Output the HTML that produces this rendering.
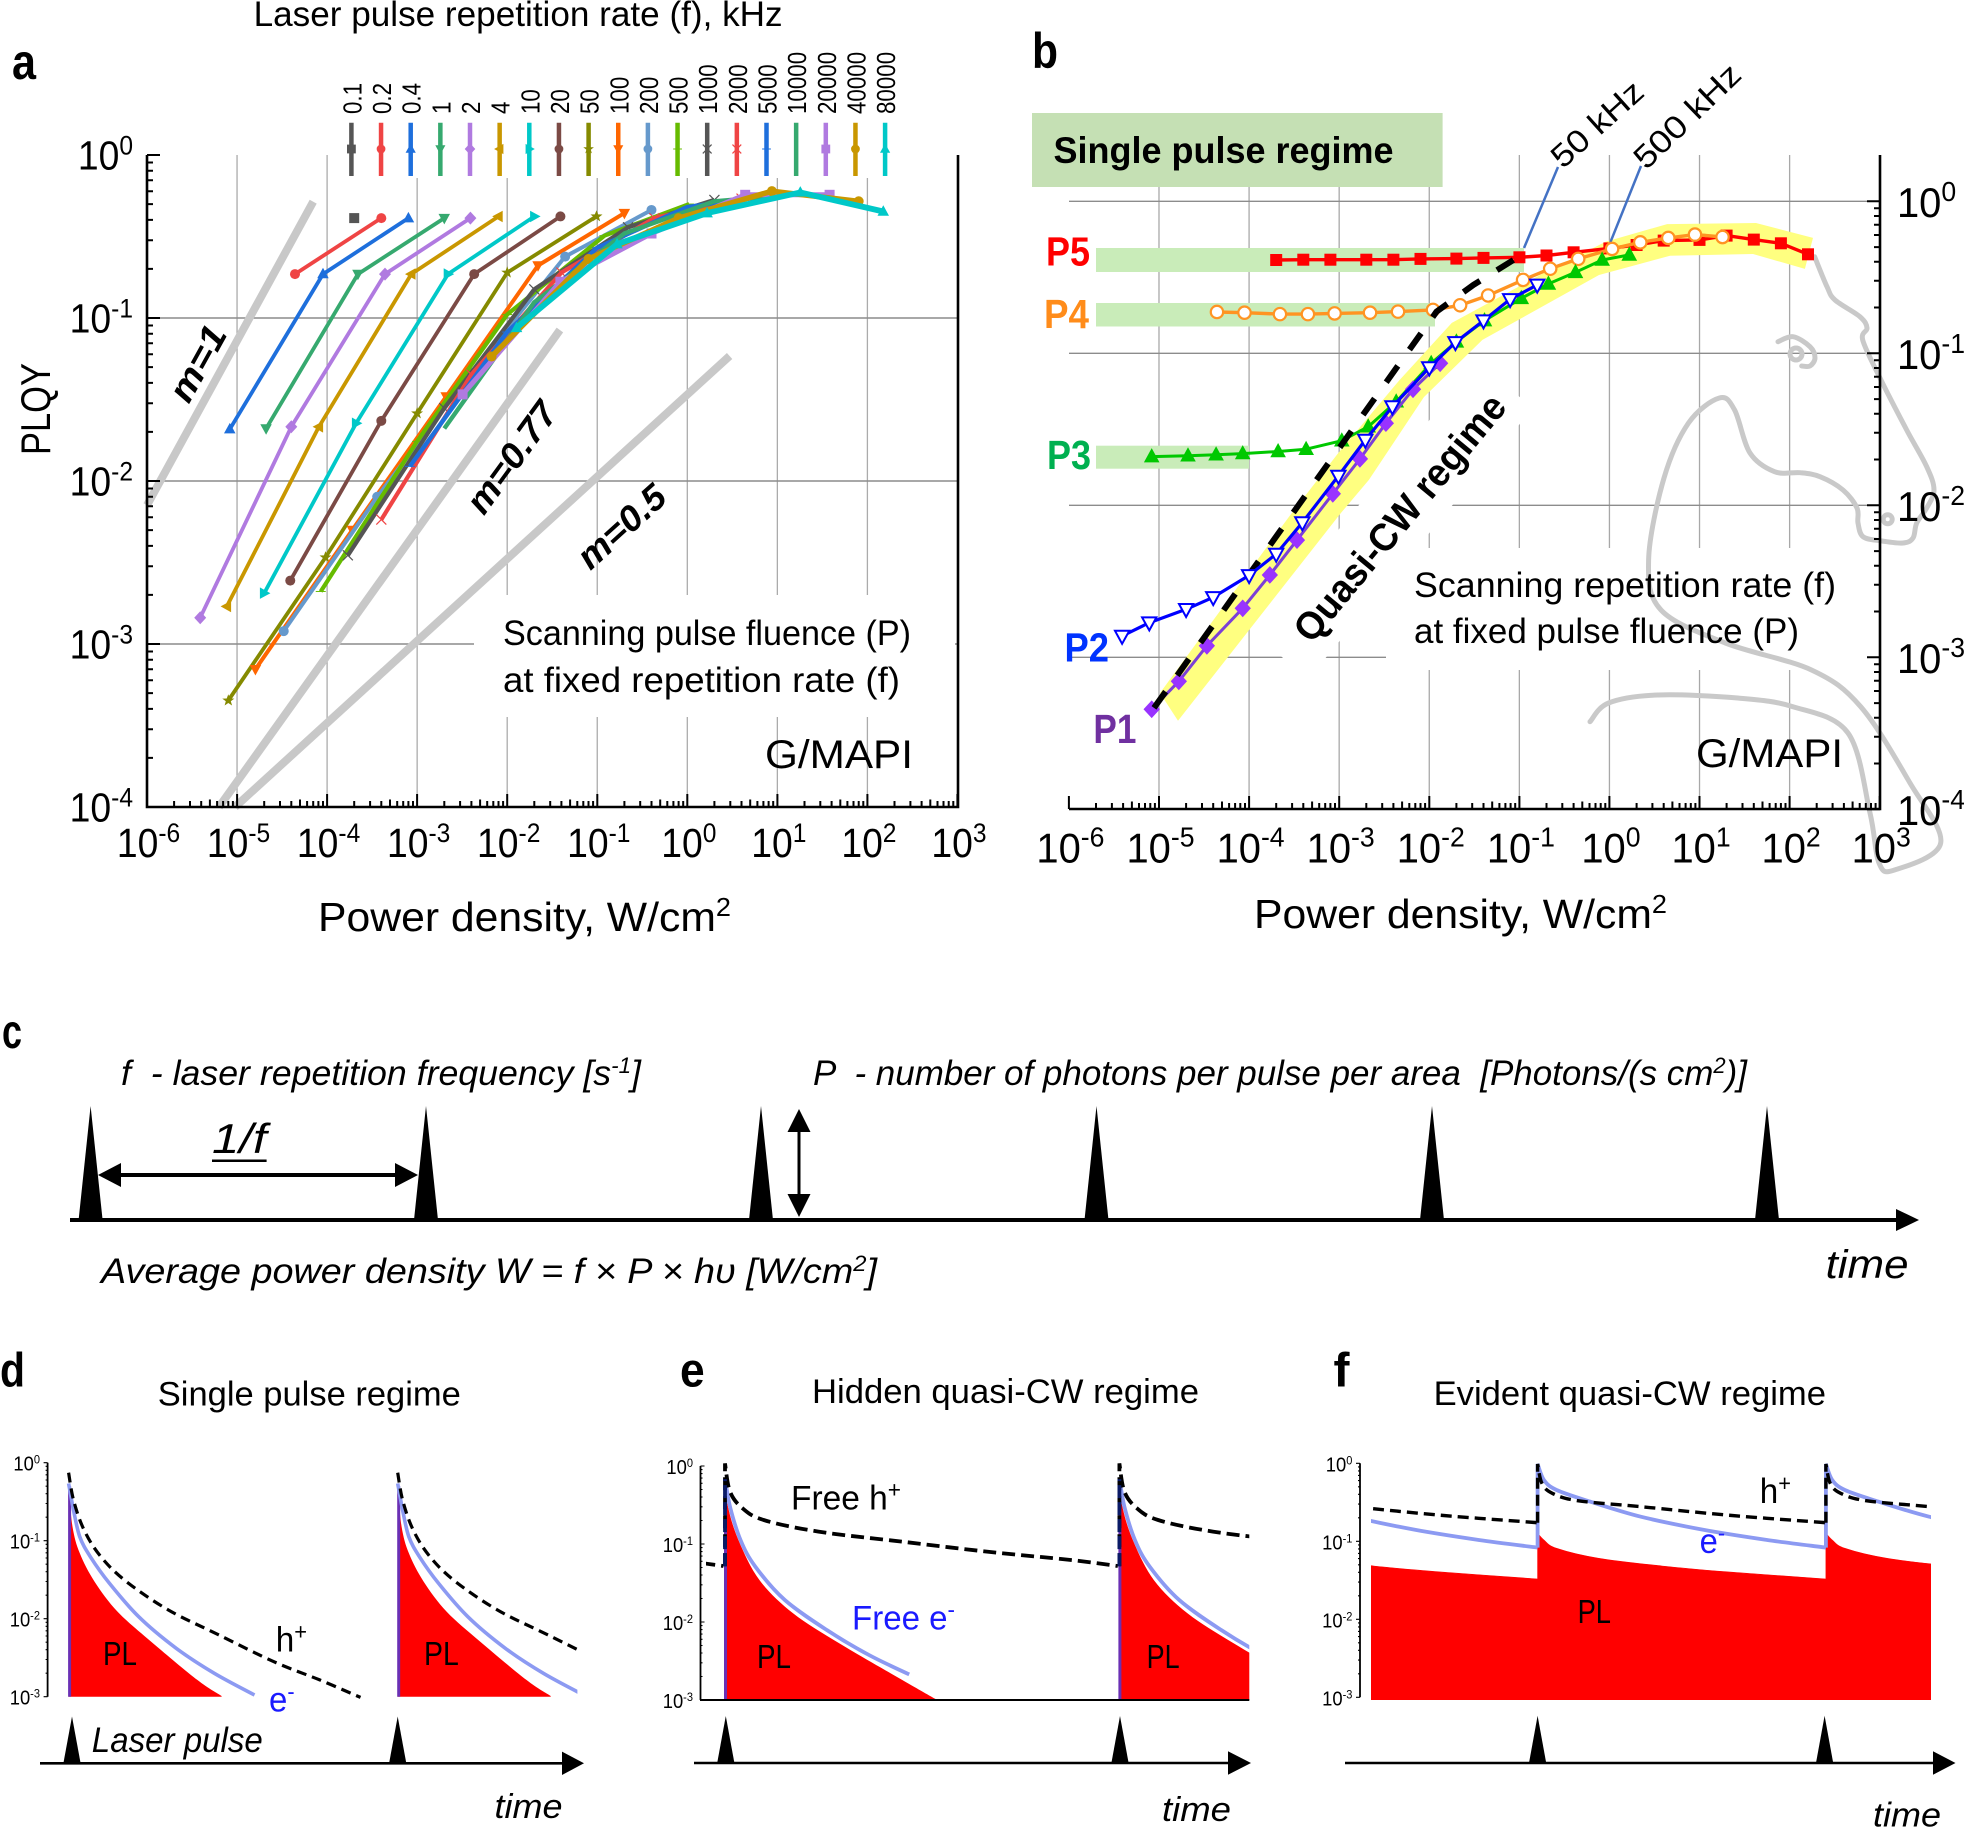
<!DOCTYPE html>
<html lang="en">
<head>
<meta charset="utf-8">
<title>PLQY versus power density, panels a to f</title>
<style>
html,body{margin:0;padding:0;background:#fff}
svg{display:block;font-family:"Liberation Sans",sans-serif}
.t{fill:#000}
</style>
</head>
<body>
<svg id="root" xmlns="http://www.w3.org/2000/svg" width="1964" height="1828" viewBox="0 0 1964 1828">
<defs>
<clipPath id="clip-d"><rect x="40" y="1440" width="537.4" height="270"/></clipPath>
<clipPath id="clip-e"><rect x="706" y="1440" width="543.3" height="260"/></clipPath>
<clipPath id="clip-f"><rect x="1371" y="1440" width="560" height="260"/></clipPath>
</defs>
<rect x="0" y="0" width="1964" height="1828" fill="#fff"/>

<g id="a-grid"></g>
<rect x="338" y="100" width="615" height="78" fill="#fff"/>
<rect x="474" y="595" width="481" height="122" fill="#fff"/>
<g id="a-refs"></g>
<g id="a-series"></g>
<g id="a-legend"></g>
<g id="a-axes"></g>

<g id="b-grid"></g>
<rect x="1386" y="548" width="494" height="122" fill="#fff"/>
<rect x="-187" y="-36" width="352" height="72" fill="#fff" transform="translate(1400 512) rotate(-50.3)"/>
<rect x="1032" y="113" width="410.6" height="74" fill="#c5e0b4"/>
<rect x="1096" y="248" width="428" height="24" fill="#c9ecb9"/>
<rect x="1096" y="303" width="339" height="23.5" fill="#c9ecb9"/>
<rect x="1096" y="445.7" width="153" height="23" fill="#c9ecb9"/>
<g id="b-band"></g>
<g id="b-horse" fill="none" stroke="#c9c9c9" stroke-width="5" stroke-linejoin="round" stroke-linecap="round"></g>
<line x1="1558" y1="167" x2="1524" y2="248" stroke="#4472c4" stroke-width="2.5"/>
<line x1="1641" y1="166" x2="1608.6" y2="246.7" stroke="#4472c4" stroke-width="2.5"/>
<g id="b-series"></g>
<g id="b-axes"></g>

<g id="c-timeline"></g>
<g id="d-plot"></g>
<g id="e-plot"></g>
<g id="f-plot"></g>

<!-- Panel a text -->
<text class="t" x="12" y="79" font-size="50" font-weight="bold" textLength="24" lengthAdjust="spacingAndGlyphs">a</text>
<text class="t" x="253.6" y="26" font-size="35" textLength="529" lengthAdjust="spacingAndGlyphs">Laser pulse repetition rate (f), kHz</text>
<text class="t" transform="translate(50 455) rotate(-90)" font-size="42" textLength="92" lengthAdjust="spacingAndGlyphs">PLQY</text>
<text class="t" x="318" y="931" font-size="41" textLength="413" lengthAdjust="spacingAndGlyphs">Power density, W/cm<tspan dy="-15" font-size="26">2</tspan></text>
<text class="t" x="503" y="645" font-size="35" textLength="408" lengthAdjust="spacingAndGlyphs">Scanning pulse fluence (P)</text>
<text class="t" x="503" y="692" font-size="35" textLength="397" lengthAdjust="spacingAndGlyphs">at fixed repetition rate (f)</text>
<text class="t" x="765" y="768" font-size="40" textLength="148" lengthAdjust="spacingAndGlyphs">G/MAPI</text>
<text class="t" transform="translate(197 363) rotate(-61)" y="13" text-anchor="middle" font-size="36" font-weight="bold" font-style="italic" textLength="81" lengthAdjust="spacingAndGlyphs">m=1</text>
<text class="t" transform="translate(511 457) rotate(-54)" y="13" text-anchor="middle" font-size="36" font-weight="bold" font-style="italic" textLength="128" lengthAdjust="spacingAndGlyphs">m=0.77</text>
<text class="t" transform="translate(621 526) rotate(-42)" y="13" text-anchor="middle" font-size="36" font-weight="bold" font-style="italic" textLength="106" lengthAdjust="spacingAndGlyphs">m=0.5</text>

<!-- Panel b text -->
<text class="t" x="1032" y="68" font-size="50" font-weight="bold" textLength="26" lengthAdjust="spacingAndGlyphs">b</text>
<text class="t" x="1053.5" y="163" font-size="37" font-weight="bold" textLength="340" lengthAdjust="spacingAndGlyphs">Single pulse regime</text>
<text x="1046" y="265.7" font-size="41" font-weight="bold" fill="#ff0000" textLength="44" lengthAdjust="spacingAndGlyphs">P5</text>
<text x="1044" y="328" font-size="41" font-weight="bold" fill="#ff8c1a" textLength="45" lengthAdjust="spacingAndGlyphs">P4</text>
<text x="1047" y="469" font-size="41" font-weight="bold" fill="#00b050" textLength="44" lengthAdjust="spacingAndGlyphs">P3</text>
<text x="1064.5" y="661.7" font-size="41" font-weight="bold" fill="#0033ff" textLength="44.5" lengthAdjust="spacingAndGlyphs">P2</text>
<text x="1093.4" y="743" font-size="41" font-weight="bold" fill="#7030a0" textLength="43" lengthAdjust="spacingAndGlyphs">P1</text>
<text class="t" transform="translate(1597 124) rotate(-42)" y="11" text-anchor="middle" font-size="32" textLength="112" lengthAdjust="spacingAndGlyphs">50 kHz</text>
<text class="t" transform="translate(1687 116) rotate(-44)" y="11" text-anchor="middle" font-size="32" textLength="135" lengthAdjust="spacingAndGlyphs">500 kHz</text>
<text class="t" transform="translate(1400 518) rotate(-50.3)" y="13" text-anchor="middle" font-size="39" font-weight="bold" textLength="308" lengthAdjust="spacingAndGlyphs">Quasi-CW regime</text>
<text class="t" x="1414" y="597" font-size="35" textLength="422" lengthAdjust="spacingAndGlyphs">Scanning repetition rate (f)</text>
<text class="t" x="1414" y="643" font-size="35" textLength="385" lengthAdjust="spacingAndGlyphs">at fixed pulse fluence (P)</text>
<text class="t" x="1696" y="767" font-size="40" textLength="147" lengthAdjust="spacingAndGlyphs">G/MAPI</text>
<text class="t" x="1254" y="928" font-size="41" textLength="413" lengthAdjust="spacingAndGlyphs">Power density, W/cm<tspan dy="-15" font-size="26">2</tspan></text>

<!-- Panel c text -->
<text class="t" x="2" y="1048" font-size="48" font-weight="bold" textLength="20" lengthAdjust="spacingAndGlyphs">c</text>
<text class="t" x="121" y="1085" font-size="35" font-style="italic" textLength="520" lengthAdjust="spacingAndGlyphs" xml:space="preserve">f  - laser repetition frequency [s<tspan dy="-12" font-size="22">-1</tspan><tspan dy="12">]</tspan></text>
<text class="t" x="813" y="1085" font-size="35" font-style="italic" textLength="934" lengthAdjust="spacingAndGlyphs" xml:space="preserve">P  - number of photons per pulse per area  [Photons/(s cm<tspan dy="-12" font-size="22">2</tspan><tspan dy="12">)]</tspan></text>
<text class="t" x="212" y="1153" font-size="42" font-style="italic" textLength="54.6" lengthAdjust="spacingAndGlyphs">1/f</text>
<rect x="212" y="1159.5" width="54.6" height="2.5" fill="#000"/>
<text class="t" x="101" y="1283" font-size="35" font-style="italic" textLength="776" lengthAdjust="spacingAndGlyphs">Average power density W = f × P × hυ [W/cm<tspan dy="-12" font-size="22">2</tspan><tspan dy="12">]</tspan></text>
<text class="t" x="1825.6" y="1278" font-size="40" font-style="italic" textLength="83" lengthAdjust="spacingAndGlyphs">time</text>

<!-- Panel d text -->
<text class="t" x="0" y="1386.7" font-size="48" font-weight="bold" textLength="25" lengthAdjust="spacingAndGlyphs">d</text>
<text class="t" x="157.8" y="1405.7" font-size="34" textLength="303" lengthAdjust="spacingAndGlyphs">Single pulse regime</text>
<text class="t" x="103" y="1665" font-size="33" textLength="34" lengthAdjust="spacingAndGlyphs">PL</text>
<text class="t" x="424" y="1665" font-size="33" textLength="34.8" lengthAdjust="spacingAndGlyphs">PL</text>
<text class="t" x="275.7" y="1651.7" font-size="35" textLength="31.3" lengthAdjust="spacingAndGlyphs">h<tspan dy="-12" font-size="23">+</tspan></text>
<text x="269" y="1711.7" font-size="35" fill="#1a1aff" textLength="25.6" lengthAdjust="spacingAndGlyphs">e<tspan dy="-12" font-size="23">-</tspan></text>
<text class="t" x="91.8" y="1752" font-size="35" font-style="italic" textLength="171" lengthAdjust="spacingAndGlyphs">Laser pulse</text>
<text class="t" x="494.5" y="1818" font-size="34" font-style="italic" textLength="68" lengthAdjust="spacingAndGlyphs">time</text>

<!-- Panel e text -->
<text class="t" x="680" y="1386.7" font-size="48" font-weight="bold" textLength="24.7" lengthAdjust="spacingAndGlyphs">e</text>
<text class="t" x="812" y="1403" font-size="34" textLength="387" lengthAdjust="spacingAndGlyphs">Hidden quasi-CW regime</text>
<text class="t" x="791" y="1509.3" font-size="34" textLength="110" lengthAdjust="spacingAndGlyphs">Free h<tspan dy="-12" font-size="23">+</tspan></text>
<text x="852" y="1629.3" font-size="34" fill="#1a1aff" textLength="103" lengthAdjust="spacingAndGlyphs">Free e<tspan dy="-12" font-size="23">-</tspan></text>
<text class="t" x="757" y="1668" font-size="33" textLength="34" lengthAdjust="spacingAndGlyphs">PL</text>
<text class="t" x="1146.6" y="1668" font-size="33" textLength="33" lengthAdjust="spacingAndGlyphs">PL</text>
<text class="t" x="1162" y="1821" font-size="34" font-style="italic" textLength="69" lengthAdjust="spacingAndGlyphs">time</text>

<!-- Panel f text -->
<text class="t" x="1333.5" y="1386.7" font-size="48" font-weight="bold" textLength="16" lengthAdjust="spacingAndGlyphs">f</text>
<text class="t" x="1433.6" y="1405" font-size="34" textLength="392.4" lengthAdjust="spacingAndGlyphs">Evident quasi-CW regime</text>
<text class="t" x="1577.6" y="1623" font-size="33" textLength="33.4" lengthAdjust="spacingAndGlyphs">PL</text>
<text class="t" x="1759.8" y="1503" font-size="35" textLength="31.2" lengthAdjust="spacingAndGlyphs">h<tspan dy="-12" font-size="23">+</tspan></text>
<text x="1699.6" y="1553" font-size="35" fill="#1a1aff" textLength="25.4" lengthAdjust="spacingAndGlyphs">e<tspan dy="-12" font-size="23">-</tspan></text>
<text class="t" x="1873" y="1826.7" font-size="34" font-style="italic" textLength="68" lengthAdjust="spacingAndGlyphs">time</text>
</svg>

<script>
/* ---------- Panel a values ---------- */
const repetitionRates = ['0.1','0.2','0.4','1','2','4','10','20','50','100','200','500','1000','2000','5000','10000','20000','40000','80000'];
const decadeExponents = [-6,-5,-4,-3,-2,-1,0,1,2,3];
const plqyExponents = [0,-1,-2,-3,-4];
const bExponents = [0,-1,-2,-3,-4];

const rate01X = [2e-4];                              const rate01Y = [0.41];
const rate02X = [4.4e-5,4e-4];                       const rate02Y = [0.186,0.41];
const rate04X = [8.3e-6,9e-5,8e-4];                  const rate04Y = [0.0208,0.186,0.41];
const rate1X = [2.1e-5,2.2e-4,2e-3];                 const rate1Y = [0.021,0.186,0.41];
const rate2X = [3.9e-6,4e-5,4.4e-4,3.9e-3];          const rate2Y = [0.00145,0.0215,0.186,0.41];
const rate4X = [7.7e-6,8.1e-5,8.6e-4,8e-3];          const rate4Y = [0.0017,0.0215,0.186,0.42];
const rate10X = [2e-5,2.1e-4,2.2e-3,2e-2];           const rate10Y = [0.00205,0.0226,0.186,0.42];
const rate20X = [3.9e-5,4e-4,4.3e-3,3.9e-2];         const rate20Y = [0.00245,0.0234,0.186,0.42];
const rate50X = [8e-6,9.6e-5,1e-3,1e-2,9.8e-2];      const rate50Y = [0.00045,0.0034,0.026,0.19,0.42];
const rate100X = [1.6e-5,1.9e-4,2.1e-3,2.2e-2,0.2];  const rate100Y = [0.0007,0.005,0.033,0.21,0.44];
const rate200X = [3.3e-5,3.6e-4,4e-3,4.4e-2,0.4];    const rate200Y = [0.0012,0.008,0.046,0.238,0.46];
const rate500X = [8.5e-5,1e-3,1e-2,0.12,1.05];       const rate500Y = [0.0021,0.0175,0.105,0.32,0.5];
const rate1000X = [1.7e-4,2e-3,2e-2,0.22,2];         const rate1000Y = [0.0035,0.028,0.15,0.36,0.53];
const rate2000X = [4e-4,4e-3,4e-2,0.43,4];           const rate2000Y = [0.0058,0.045,0.19,0.41,0.54];
const rate5000X = [8.3e-4,1e-2,0.1,1,10];            const rate5000Y = [0.0123,0.082,0.27,0.48,0.57];
const rate10000X = [2e-3,2e-2,0.2,2,20];             const rate10000Y = [0.021,0.125,0.33,0.52,0.58];
const rate20000X = [3.2e-3,3.9e-2,0.4,4.4,38];       const rate20000Y = [0.034,0.167,0.33,0.57,0.57];
const rate40000X = [6.7e-3,8e-2,0.8,8.7,80];         const rate40000Y = [0.058,0.23,0.41,0.6,0.52];
const rate80000X = [1.27e-2,0.166,1.66,18,150];      const rate80000Y = [0.087,0.284,0.44,0.59,0.45];

const ratesX = [rate01X,rate02X,rate04X,rate1X,rate2X,rate4X,rate10X,rate20X,rate50X,rate100X,rate200X,rate500X,rate1000X,rate2000X,rate5000X,rate10000X,rate20000X,rate40000X,rate80000X];
const ratesY = [rate01Y,rate02Y,rate04Y,rate1Y,rate2Y,rate4Y,rate10Y,rate20Y,rate50Y,rate100Y,rate200Y,rate500Y,rate1000Y,rate2000Y,rate5000Y,rate10000Y,rate20000Y,rate40000Y,rate80000Y];
const rateColors = ['#555555','#ef4444','#1e6fdc','#36a96f','#b07ae0','#c99700','#00c8c8','#7b4a45','#858a00','#ff6600','#6699cc','#66bb00','#555555','#ef4444','#1e6fdc','#36a96f','#b07ae0','#c99700','#00c8c8'];
const rateMarkers = ['square','circle','up','down','diamond','left','right','circle','star','down','circle','thin','x','x','thin','none','square','circle','up'];
const rateWidths = [3.4,3.8,3.8,3.8,3.8,3.8,3.8,3.8,3.8,4,4,4.2,4.2,4.2,4.4,4.4,5,5.5,5.8];

const slopeM1X = [1e-6,7e-5];        const slopeM1Y = [7.1e-3,0.517];
const slopeM077X = [6.3e-6,0.0385];  const slopeM077Y = [1e-4,0.0844];
const slopeM05X = [9.5e-6,2.95];     const slopeM05Y = [1e-4,0.0585];

/* ---------- Panel b values ---------- */
const p5X = [2e-4,4e-4,8e-4,2e-3,4e-3,8e-3,2e-2,4e-2,0.1,0.2,0.4,1,2,4,10,20,40,80,160];
const p5Y = [0.411,0.413,0.413,0.413,0.413,0.418,0.42,0.424,0.428,0.44,0.462,0.49,0.516,0.551,0.557,0.595,0.56,0.529,0.448];
const p4X = [4.4e-5,8.9e-5,2.2e-4,4.5e-4,8.9e-4,2.2e-3,4.5e-3,1.1e-2,2.2e-2,4.5e-2,0.11,0.22,0.45,1.07,2.2,4.5,8.9,18];
const p4Y = [0.187,0.185,0.181,0.181,0.183,0.185,0.188,0.193,0.207,0.24,0.304,0.36,0.418,0.486,0.537,0.574,0.604,0.582];
const p3X = [8.3e-6,2.1e-5,4.3e-5,8.5e-5,2.1e-4,4.3e-4,1.07e-3,2.1e-3,4.3e-3,1.05e-2,2e-2,4.1e-2,0.105,0.21,0.42,0.83,1.66];
const p3Y = [0.0209,0.0212,0.0215,0.0219,0.0226,0.0234,0.0266,0.0329,0.048,0.086,0.119,0.164,0.23,0.286,0.341,0.411,0.444];
const p2X = [3.9e-6,7.8e-6,2e-5,4e-5,1e-4,2e-4,3.9e-4,9.8e-4,1.95e-3,3.9e-3,1e-2,1.95e-2,4e-2,7.9e-2,0.158];
const p2Y = [1.38e-3,1.69e-3,2.07e-3,2.48e-3,3.46e-3,4.78e-3,7.7e-3,0.0156,0.0269,0.0446,0.0805,0.118,0.164,0.2265,0.282];
const p1X = [8.3e-6,1.66e-5,3.4e-5,8.5e-5,1.7e-4,3.4e-4,8.5e-4,1.7e-3,3.3e-3,6.6e-3,1.32e-2];
const p1Y = [4.55e-4,6.95e-4,1.19e-3,2.1e-3,3.48e-3,5.9e-3,0.0119,0.0202,0.0347,0.058,0.086];

const guideLogX = [-5.055,-1.92,-1.51,-1.066];
const guideLogY = [-3.333,-0.726,-0.55,-0.386];
const bandLogX = [-4.789,-2.98,-2.67,-2.06,-1.41,-0.116,0.672,1.594,2.17,2.26,1.627,0.64,-0.043,-0.77,-1.75,-2.33,-3.01,-3.557,-4.989];
const bandLogY = [-3.417,-2.05,-1.833,-1.288,-0.912,-0.485,-0.358,-0.347,-0.445,-0.241,-0.143,-0.15,-0.266,-0.485,-0.8,-1.176,-1.656,-2.075,-3.235];

/* ---------- Panel d decay curves (time in pulse periods after a pulse) ---------- */
const dElectronT = [0,0.015,0.034,0.066,0.124,0.213,0.327,0.442,0.565];
const dElectronV = [0.543,0.247,0.112,0.0623,0.0284,0.0106,0.00417,0.002,0.00105];
const dHoleT = [0,0.015,0.047,0.098,0.176,0.304,0.457,0.623,0.763,0.887];
const dHoleV = [0.744,0.332,0.137,0.0623,0.0298,0.0129,0.00618,0.00282,0.00164,0.00098];
const dPlT = [0,0.012,0.034,0.079,0.149,0.251,0.391,0.465];
const dPlV = [0.492,0.151,0.0689,0.0298,0.0123,0.00507,0.00164,0.00102];

/* ---------- Panel e ---------- */
const eElectronT = [0,0.0128,0.0395,0.0768,0.152,0.258,0.365,0.467];
const eElectronV = [0.695,0.301,0.112,0.0513,0.0191,0.00789,0.00377,0.00213];
const eHoleT = [0,0,0.0128,0.0448,0.098,0.237,0.45,0.664,0.877,0.996];
const eHoleV = [0.052,1.08,0.469,0.286,0.203,0.144,0.107,0.0798,0.0624,0.0522];
const ePlT = [0,0.0075,0.0342,0.0875,0.173,0.29,0.45,0.535];
const ePlV = [0.662,0.301,0.112,0.0345,0.0129,0.00532,0.0018,0.00102];

/* ---------- Panel f ---------- */
const fElectronT = [0,0,0.022,0.066,0.182,0.358,0.577,0.796,1];
const fElectronV = [0.083,0.98,0.611,0.455,0.323,0.207,0.14,0.104,0.083];
const fHoleT = [0,0,0.015,0.051,0.139,0.358,0.65,1];
const fHoleV = [0.173,0.98,0.554,0.412,0.332,0.278,0.218,0.173];
const fPlT = [0,0,0.022,0.066,0.212,0.431,0.65,1];
const fPlV = [0.0329,0.127,0.104,0.0813,0.0605,0.0483,0.0408,0.0329];

/* ---------- Helpers ---------- */
const NS = 'http://www.w3.org/2000/svg';
function node(parent, tag, name, attrs) {
  const el = document.createElementNS(NS, tag);
  
  
  for (const k in attrs) el.setAttribute(k, attrs[k]);
  parent.appendChild(el);
  return el;
}
const $ = id => document.getElementById(id);
const pts = (xs, ys, fx, fy) => xs.map((v, i) => fx(v).toFixed(1) + ',' + fy(ys[i]).toFixed(1)).join(' ');

/* Smooth path segments through points; vertical jumps stay sharp. */
function smoothSegs(p) {
  let d = '';
  const vert = (a, b) => Math.abs(a[0] - b[0]) < 0.01;
  for (let i = 0; i < p.length - 1; i++) {
    const a = p[i], b = p[i + 1];
    if (vert(a, b)) { d += `L${b[0].toFixed(1)} ${b[1].toFixed(1)}`; continue; }
    const prev = (i > 0 && !vert(p[i - 1], a)) ? p[i - 1] : a;
    const next = (i + 2 < p.length && !vert(b, p[i + 2])) ? p[i + 2] : b;
    const c1x = a[0] + (b[0] - prev[0]) / 6, c1y = a[1] + (b[1] - prev[1]) / 6;
    const c2x = b[0] - (next[0] - a[0]) / 6, c2y = b[1] - (next[1] - a[1]) / 6;
    d += `C${c1x.toFixed(1)} ${c1y.toFixed(1)} ${c2x.toFixed(1)} ${c2y.toFixed(1)} ${b[0].toFixed(1)} ${b[1].toFixed(1)}`;
  }
  return d;
}
const pairs = (xs, ys, fx, fy) => xs.map((v, i) => [fx(v), fy(ys[i])]);
function curveD(xs, ys, fx, fy) {
  const p = pairs(xs, ys, fx, fy);
  return `M${p[0][0].toFixed(1)} ${p[0][1].toFixed(1)}` + smoothSegs(p);
}
function areaD(xs, ys, fx, fy, base) {
  const p = pairs(xs, ys, fx, fy);
  return `M${p[0][0].toFixed(1)} ${base}L${p[0][0].toFixed(1)} ${p[0][1].toFixed(1)}` + smoothSegs(p) + `L${p[p.length - 1][0].toFixed(1)} ${base}Z`;
}

const ax = w => 147 + 90.05 * (Math.log10(w) + 6);
const ay = v => 155 - 163 * Math.log10(v);
const bx = w => 1068.9 + 90.09 * (Math.log10(w) + 6);
const by = v => 201.3 - 152 * Math.log10(v);
const bxLog = l => 1068.9 + 90.09 * (l + 6);
const byLog = l => 201.3 - 152 * l;

function marker(parent, name, shape, x, y, r, fill, stroke, sw) {
  const common = { fill: fill, stroke: stroke || 'none', 'stroke-width': sw || 0 };
  const poly = list => node(parent, 'polygon', name, Object.assign({ points: list.map(p => (x + p[0] * r).toFixed(1) + ',' + (y + p[1] * r).toFixed(1)).join(' ') }, common));
  if (shape === 'square') poly([[-1,-1],[1,-1],[1,1],[-1,1]]);
  else if (shape === 'circle') node(parent, 'circle', name, Object.assign({ cx: x, cy: y, r: r }, common));
  else if (shape === 'up') poly([[0,-1.25],[1.15,0.85],[-1.15,0.85]]);
  else if (shape === 'down') poly([[0,1.25],[1.15,-0.85],[-1.15,-0.85]]);
  else if (shape === 'diamond') poly([[0,-1.3],[1.2,0],[0,1.3],[-1.2,0]]);
  else if (shape === 'left') poly([[-1.25,0],[0.85,-1.15],[0.85,1.15]]);
  else if (shape === 'right') poly([[1.25,0],[-0.85,-1.15],[-0.85,1.15]]);
  else if (shape === 'star') poly([[0,-1.25],[0.33,-0.4],[1.2,-0.38],[0.5,0.15],[0.75,1],[0,0.5],[-0.75,1],[-0.5,0.15],[-1.2,-0.38],[-0.33,-0.4]]);
  else if (shape === 'thin') node(parent, 'line', name, { x1: x - r, y1: y, x2: x + r, y2: y, stroke: fill, 'stroke-width': 1 });
  else if (shape === 'x') node(parent, 'path', name, { d: `M${x-r} ${y-r}L${x+r} ${y+r}M${x+r} ${y-r}L${x-r} ${y+r}`, stroke: fill, 'stroke-width': 1.2, fill: 'none' });
}

function powerLabel(parent, name, x, y, exp, size, esize, rise, anchor, sx) {
  const t = node(parent, 'text', name, { transform: `translate(${x} ${y}) scale(${sx} 1)`, 'text-anchor': anchor, 'font-size': size, fill: '#000' });
  t.appendChild(document.createTextNode('10'));
  const s = node(t, 'tspan', name + '-exponent', { dy: -rise, 'font-size': esize });
  s.textContent = String(exp);
  return t;
}

function logTicksX(fx, y, major, minor) {
  let d = '';
  for (let e = -6; e <= 3; e++) {
    const base = Math.pow(10, e);
    d += `M${fx(base).toFixed(1)} ${y}V${y - major}`;
    if (e < 3) for (let m = 2; m <= 9; m++) d += `M${fx(base * m).toFixed(1)} ${y}V${y - (m === 5 ? minor + 1.5 : minor)}`;
  }
  return d;
}
function logTicksY(fy, x, dir, major, minor, top, bottom) {
  let d = '';
  for (let e = top; e >= bottom; e--) {
    const base = Math.pow(10, e);
    d += `M${x} ${fy(base).toFixed(1)}H${x + dir * major}`;
    if (e > bottom) for (let m = 2; m <= 9; m++) d += `M${x} ${fy(base * m / 10).toFixed(1)}H${x + dir * minor}`;
  }
  return d;
}

/* ---------- Panel a ---------- */
decadeExponents.slice(1, 9).forEach(e => {
  node($('a-grid'), 'line', 'grid-vertical', { x1: ax(Math.pow(10, e)), x2: ax(Math.pow(10, e)), y1: 155, y2: 807, stroke: '#ababab', 'stroke-width': 1.3 });
});
plqyExponents.slice(1, 4).forEach(e => {
  node($('a-grid'), 'line', 'grid-horizontal', { x1: 147, x2: 958, y1: ay(Math.pow(10, e)), y2: ay(Math.pow(10, e)), stroke: '#8c8c8c', 'stroke-width': 1.4 });
});
[[slopeM1X, slopeM1Y, 'slope-line-m1'], [slopeM077X, slopeM077Y, 'slope-line-m077'], [slopeM05X, slopeM05Y, 'slope-line-m05']].forEach(s => {
  node($('a-refs'), 'polyline', s[2], { points: pts(s[0], s[1], ax, ay), fill: 'none', stroke: '#c8c8c8', 'stroke-width': 8 });
});
repetitionRates.forEach((rate, i) => {
  const g = node($('a-series'), 'g', 'series-' + rate + '-khz', {});
  if (ratesX[i].length > 1) node(g, 'polyline', 'series-line', { points: pts(ratesX[i], ratesY[i], ax, ay), fill: 'none', stroke: rateColors[i], 'stroke-width': rateWidths[i], 'stroke-linejoin': 'round' });
  ratesX[i].forEach((x, k) => marker(g, 'series-point', rateMarkers[i], ax(x), ay(ratesY[i][k]), 5, rateColors[i]));
});
repetitionRates.forEach((rate, i) => {
  const cx = 351.4 + 29.65 * i;
  const g = node($('a-legend'), 'g', 'legend-entry-' + rate, {});
  node(g, 'line', 'legend-swatch', { x1: cx, x2: cx, y1: 122.7, y2: 176, stroke: rateColors[i], 'stroke-width': 4.5 });
  marker(g, 'legend-marker', rateMarkers[i], cx, 149, 4.4, rateColors[i]);
  const t = node(g, 'text', 'legend-label', { transform: `translate(${cx + 10} 114) rotate(-90) scale(0.86 1)`, 'font-size': 26, fill: '#000' });
  t.textContent = rate;
});
node($('a-axes'), 'path', 'axis-frame', { d: 'M147 155V807H958V155', fill: 'none', stroke: '#000', 'stroke-width': 2.6 });
node($('a-axes'), 'path', 'x-axis-ticks', { d: logTicksX(ax, 807, 13, 6), stroke: '#000', 'stroke-width': 2, fill: 'none' });
node($('a-axes'), 'path', 'y-axis-ticks', { d: logTicksY(ay, 147, 1, 13, 6, 0, -4), stroke: '#000', 'stroke-width': 2, fill: 'none' });
decadeExponents.forEach(e => powerLabel($('a-axes'), 'x-tick-label', ax(Math.pow(10, e)) + 1.5, 857, e, 41, 27, 15, 'middle', 0.91));
plqyExponents.forEach(e => powerLabel($('a-axes'), 'y-tick-label', 133, ay(Math.pow(10, e)) + 14.5, e, 41, 27, 15, 'end', 0.91));

/* ---------- Panel b ---------- */
decadeExponents.slice(1, 9).forEach(e => {
  node($('b-grid'), 'line', 'grid-vertical', { x1: bx(Math.pow(10, e)), x2: bx(Math.pow(10, e)), y1: 155, y2: 809, stroke: '#a8a8a8', 'stroke-width': 1.3 });
});
bExponents.slice(0, 4).forEach(e => {
  node($('b-grid'), 'line', 'grid-horizontal', { x1: 1069, x2: 1880, y1: by(Math.pow(10, e)), y2: by(Math.pow(10, e)), stroke: '#8c8c8c', 'stroke-width': 1.4 });
});
node($('b-band'), 'polygon', 'quasi-cw-band-shape', { points: pts(bandLogX, bandLogY, bxLog, byLog), fill: '#ffff80' });

/* Decorative background outline (not chart data) */
const horseMain = [[1814.6,256.7],[1827,286.7],[1835,300],[1860,316.7],[1867,328],[1862.7,340],[1880,378],[1906.7,430],[1926.7,466.7],[1934,490],[1926.7,508],[1916.7,523],[1913,538],[1903,543],[1880,540.7],[1863,536.7],[1858,523],[1857,508],[1843,490],[1820,476.7],[1800,472.7],[1774.6,471.7],[1750,453],[1734.6,410],[1719.3,398],[1688.5,423],[1664,478],[1648.6,560],[1661,610],[1725.4,643],[1811.5,670],[1860.7,706.7],[1910,783],[1940.7,843],[1894.5,870],[1879,863],[1870,813],[1848,733],[1793,706.7],[1737.7,698],[1657.8,695],[1608.6,703],[1590,721.7]];
const horseSpiral = [[1778,341.7],[1793,336.7],[1810,346.7],[1815,358],[1810,366],[1801.7,366]];
node($('b-horse'), 'path', 'outline-neck', { d: `M${horseMain[0].join(' ')}` + smoothSegs(horseMain) });
node($('b-horse'), 'path', 'outline-spiral', { d: `M${horseSpiral[0].join(' ')}` + smoothSegs(horseSpiral) });
node($('b-horse'), 'circle', 'outline-eye', { cx: 1796, cy: 354, r: 6 });
node($('b-horse'), 'circle', 'outline-nostril', { cx: 1887.7, cy: 519.3, r: 4.5 });

function bSeries(name, xs, ys, shape, r, lineColor, fill, stroke, sw, lw) {
  const g = node($('b-series'), 'g', name, {});
  node(g, 'polyline', name + '-line', { points: pts(xs, ys, bx, by), fill: 'none', stroke: lineColor, 'stroke-width': lw, 'stroke-linejoin': 'round' });
  xs.forEach((x, i) => marker(g, name + '-point', shape, bx(x), by(ys[i]), r, fill, stroke, sw));
}
bSeries('series-p5', p5X, p5Y, 'square', 6, '#ff0000', '#ff0000', null, 0, 3.4);
bSeries('series-p4', p4X, p4Y, 'circle', 6.2, '#ff9422', '#ffffff', '#ff9422', 2.2, 3.4);
bSeries('series-p3', p3X, p3Y, 'up', 6.8, '#00c800', '#00c800', null, 0, 3);
bSeries('series-p1', p1X, p1Y, 'diamond', 6.8, '#7b3fd6', '#9933ff', null, 0, 3);
node($('b-series'), 'polyline', 'guide-dashed-line', { points: pts(guideLogX, guideLogY, bxLog, byLog), fill: 'none', stroke: '#000', 'stroke-width': 6, 'stroke-dasharray': '20 20' });
bSeries('series-p2', p2X, p2Y, 'down', 6.2, '#0000ff', '#ffffff', '#0000ff', 2, 3.2);

node($('b-axes'), 'path', 'b-axis-lines', { d: 'M1069 809H1880V155', fill: 'none', stroke: '#000', 'stroke-width': 2.6 });
node($('b-axes'), 'path', 'b-x-axis-ticks', { d: logTicksX(bx, 809, 13, 6), stroke: '#000', 'stroke-width': 2, fill: 'none' });
node($('b-axes'), 'path', 'b-y-axis-ticks', { d: logTicksY(by, 1880, -1, 13, 6, 0, -4), stroke: '#000', 'stroke-width': 2, fill: 'none' });
decadeExponents.forEach(e => powerLabel($('b-axes'), 'b-x-tick-label', bx(Math.pow(10, e)) + 1.5, 862.7, e, 42, 28, 16, 'middle', 0.95));
bExponents.forEach(e => powerLabel($('b-axes'), 'b-y-tick-label', 1897, by(Math.pow(10, e)) + 15.5, e, 42, 28, 16, 'start', 0.95));

/* ---------- Panel c ---------- */
const cPulseCenters = [90.6, 426, 761, 1096.5, 1432, 1767];
const cg = $('c-timeline');
node(cg, 'line', 'time-axis', { x1: 70, x2: 1900, y1: 1220, y2: 1220, stroke: '#000', 'stroke-width': 4 });
node(cg, 'polygon', 'time-axis-arrowhead', { points: '1896,1209 1919,1220 1896,1231', fill: '#000' });
cPulseCenters.forEach(c => node(cg, 'polygon', 'laser-pulse', { points: `${c},1106 ${c + 12},1220 ${c - 12},1220`, fill: '#000' }));
node(cg, 'line', 'period-arrow-shaft', { x1: 110, x2: 405, y1: 1175, y2: 1175, stroke: '#000', 'stroke-width': 4 });
node(cg, 'polygon', 'period-arrow-left', { points: '98,1175 121,1163 121,1187', fill: '#000' });
node(cg, 'polygon', 'period-arrow-right', { points: '418,1175 395,1163 395,1187', fill: '#000' });
node(cg, 'line', 'fluence-arrow-shaft', { x1: 799, x2: 799, y1: 1125, y2: 1200, stroke: '#000', 'stroke-width': 3 });
node(cg, 'polygon', 'fluence-arrow-top', { points: '799,1109 810.5,1132 787.5,1132', fill: '#000' });
node(cg, 'polygon', 'fluence-arrow-bottom', { points: '799,1217 810.5,1194 787.5,1194', fill: '#000' });

/* ---------- Panels d, e, f ---------- */
function timeAxis(g, x1, baseX, tipX, y, pulses, top) {
  node(g, 'line', 'time-axis', { x1: x1, x2: baseX + 2, y1: y, y2: y, stroke: '#000', 'stroke-width': 2.6 });
  node(g, 'polygon', 'time-axis-arrowhead', { points: `${baseX},${y - 11.7} ${tipX},${y} ${baseX},${y + 11.7}`, fill: '#000' });
  pulses.forEach(c => node(g, 'polygon', 'laser-pulse', { points: `${c},${top} ${c + 8.7},${y + 0.5} ${c - 8.7},${y + 0.5}`, fill: '#000' }));
}
function smallAxis(g, x, dir, fy, labelX) {
  node(g, 'line', 'y-axis-line', { x1: x, x2: x, y1: fy(1), y2: fy(0.001), stroke: '#000', 'stroke-width': 1.8 });
  let d = '';
  for (let e = 0; e >= -3; e--) {
    const b = Math.pow(10, e);
    d += `M${x} ${fy(b).toFixed(1)}h${dir * 4}`;
    if (e > -3) for (let m = 2; m <= 9; m++) d += `M${x} ${fy(b * m / 10).toFixed(1)}h${dir * 2}`;
    powerLabel(g, 'y-tick-label', labelX, fy(b) + 8, e, 20, 12, 7, 'end', 0.92);
  }
  node(g, 'path', 'y-axis-ticks', { d: d, stroke: '#000', 'stroke-width': 1.1, fill: 'none' });
}
const RED = '#ff0000', BLUE = '#8c9af2', PURPLE = '#6a30b4', NAVY = '#0a1a66';

/* d */
const dy = v => 1462.7 - 78 * Math.log10(v);
const dx = t => 68.6 + 329.1 * t;
const dg = $('d-plot');
smallAxis(dg, 47.6, -1, dy, 40);
const dClip = node(dg, 'g', 'panel-d-curves', { 'clip-path': 'url(#clip-d)' });
[0, 1].forEach(p => {
  const xf = t => dx(t + p);
  node(dClip, 'path', 'pl-decay-area', { d: areaD(dPlT, dPlV, xf, dy, dy(0.001)), fill: RED });
  node(dClip, 'line', 'pulse-excitation-line', { x1: xf(0) + 1, x2: xf(0) + 1, y1: dy(0.5), y2: dy(0.001), stroke: PURPLE, 'stroke-width': 3 });
  node(dClip, 'path', 'electron-decay-line', { d: curveD(dElectronT, dElectronV, xf, dy), fill: 'none', stroke: BLUE, 'stroke-width': 3.6 });
  node(dClip, 'path', 'hole-decay-line', { d: curveD(dHoleT, dHoleV, xf, dy), fill: 'none', stroke: '#000', 'stroke-width': 3.2, 'stroke-dasharray': '10 6' });
});
timeAxis(dg, 40, 562, 584, 1763.3, [72, 397.7], 1716.5);

/* e */
const ey = v => 1466 - 78 * Math.log10(v);
const ex = t => 725 + 394.4 * t;
const eg = $('e-plot');
const eClip = node(eg, 'g', 'panel-e-curves', { 'clip-path': 'url(#clip-e)' });
[0, 1].forEach(p => {
  const xf = t => ex(t + p);
  node(eClip, 'path', 'pl-decay-area', { d: areaD(ePlT, ePlV, xf, ey, ey(0.001)), fill: RED });
  node(eClip, 'line', 'pulse-excitation-line', { x1: xf(0) + 0.5, x2: xf(0) + 0.5, y1: ey(0.7), y2: ey(0.001), stroke: PURPLE, 'stroke-width': 3 });
  node(eClip, 'path', 'electron-decay-line', { d: curveD(eElectronT, eElectronV, xf, ey), fill: 'none', stroke: BLUE, 'stroke-width': 3.8 });
});
[-1, 0, 1].forEach(p => {
  const xf = t => ex(t + p);
  node(eClip, 'path', 'hole-decay-line', { d: curveD(eHoleT, eHoleV, xf, ey), fill: 'none', stroke: '#000', 'stroke-width': 3.8, 'stroke-dasharray': '13 6' });
  if (p >= 0) node(eClip, 'line', 'pulse-jump-line', { x1: xf(0), x2: xf(0), y1: ey(0.052), y2: ey(0.68), stroke: NAVY, 'stroke-width': 3.8, 'stroke-dasharray': '13 4' });
});
node(eg, 'line', 'x-axis-line', { x1: 700, x2: 1249.3, y1: 1700, y2: 1700, stroke: '#000', 'stroke-width': 2 });
smallAxis(eg, 700.5, 1, ey, 693);
timeAxis(eg, 694, 1228, 1251, 1763, [725.8, 1120], 1716);

/* f */
const fy = v => 1463.3 - 78 * Math.log10(v);
const fx = t => 1537.6 + 288.3 * t;
const fg = $('f-plot');
const fClip = node(fg, 'g', 'panel-f-curves', { 'clip-path': 'url(#clip-f)' });
[-1, 0, 1].forEach(p => {
  const xf = t => fx(t + p);
  node(fClip, 'path', 'pl-area', { d: areaD(fPlT, fPlV, xf, fy, 1700), fill: RED, stroke: RED, 'stroke-width': 0.6 });
});
[-1, 0, 1].forEach(p => {
  const xf = t => fx(t + p);
  node(fClip, 'path', 'electron-line', { d: curveD(fElectronT, fElectronV, xf, fy), fill: 'none', stroke: BLUE, 'stroke-width': 3.8 });
});
[-1, 0, 1].forEach(p => {
  const xf = t => fx(t + p);
  node(fClip, 'path', 'hole-line', { d: curveD(fHoleT, fHoleV, xf, fy), fill: 'none', stroke: '#000', 'stroke-width': 3.4, 'stroke-dasharray': '11 6' });
});
smallAxis(fg, 1360, -1, fy, 1352.4);
timeAxis(fg, 1345, 1933, 1955.5, 1763, [1537.6, 1824.6], 1715.7);
</script>
</body>
</html>
